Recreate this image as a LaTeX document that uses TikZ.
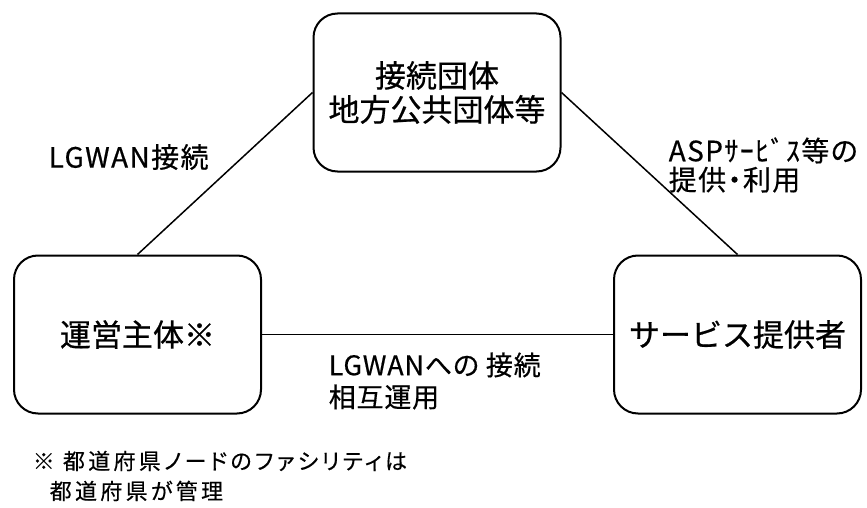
\documentclass[tikz,border=0pt]{standalone}
\usepackage{fontspec}
\setmainfont{Noto Sans CJK JP}[FakeBold=0.6]
\newfontfamily\jpprop{Noto Sans CJK JP}[RawFeature=+palt,FakeBold=0.4]
\usepackage{tikz}
\usetikzlibrary{positioning}
\tikzset{main node/.style={draw,rounded corners=24pt,line width=2pt,minimum width=247pt,minimum height=158pt,inner sep=0pt,align=center,font=\fontsize{31}{34}\selectfont},
  link label/.style={anchor=west,align=left,inner sep=0pt},}

\begin{document}
\begin{tikzpicture}[x=1pt, y=-1pt, line width=1.5pt]
	\useasboundingbox (0,0) rectangle (867,508);
	\node[main node] (dantai) at (437,92.5) {接続団体\\地方公共団体等};
	\node[main node] (unei) at (137.5,334.5) {運営主体※};
	\node[main node] (asp) at (737.5,334.5) {サービス提供者};

	\draw (dantai.west) -- (unei.north);
	\draw (dantai.east) -- (asp.north);
	\draw (unei) -- (asp);

	% labels on the links
	\node[link label, font=\fontsize{28}{29}\selectfont\addfontfeature{LetterSpace=5}] (lgwan) at (48,157) {LGWAN接続};
	\node[link label, font=\jpprop\fontsize{28}{29}\selectfont\addfontfeature{LetterSpace=5}] (aspuse) at (668,165) {ASPｻｰﾋﾞｽ等の\\提供・利用};
	\node[link label, font=\jpprop\fontsize{27}{32}\selectfont\addfontfeature{LetterSpace=3}] (sogo) at (328,381) {LGWANへの 接続\\相互運用};

	% footnote
	\node[link label, font=\jpprop\fontsize{22}{30}\selectfont\addfontfeature{LetterSpace=15}] (note) at (32,476) {※ 都道府県ノードのファシリティは\\\hspace*{17pt}都道府県が管理};
\end{tikzpicture}
\end{document}
